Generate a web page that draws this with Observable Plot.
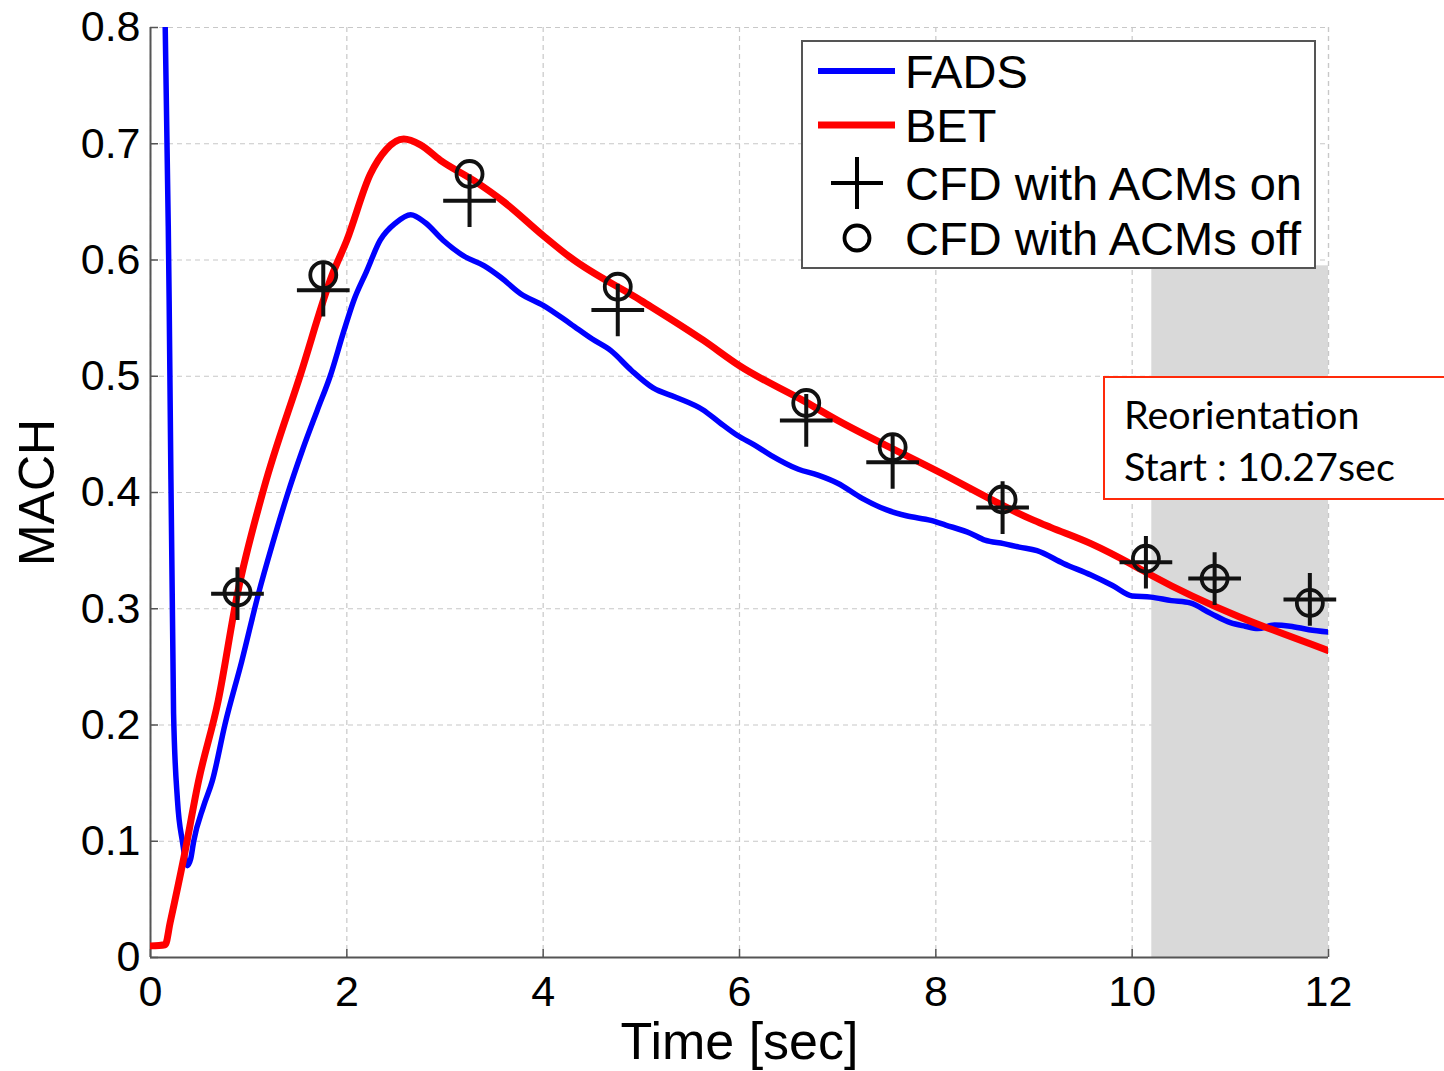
<!DOCTYPE html>
<html>
<head>
<meta charset="utf-8">
<script src="https://cdn.jsdelivr.net/npm/d3@7"></script>
<script src="https://cdn.jsdelivr.net/npm/@observablehq/plot@0.6"></script>
<style>
  html, body { margin: 0; padding: 0; background: #fff; overflow: hidden; }
  #wrap { position: relative; width: 1444px; height: 1071px; }
  #overlay { position: absolute; left: 0; top: 0; pointer-events: none; }
</style>
</head>
<body>
<div id="wrap"></div>
<script>
// ---- Data ----
const fadsTime = [0.13, 0.15, 0.19, 0.235, 0.275, 0.325, 0.375, 0.41, 0.44, 0.54, 0.63, 0.76, 0.93, 1.10, 1.24, 1.39, 1.55, 1.7, 1.83, 1.97, 2.07, 2.2, 2.34, 2.5, 2.65, 2.8, 2.98, 3.2, 3.4, 3.57, 3.77, 4.0, 4.28, 4.5, 4.69, 4.9, 5.12, 5.35, 5.63, 5.8, 5.98, 6.15, 6.32, 6.6, 6.8, 7.0, 7.25, 7.5, 7.7, 7.95, 8.1, 8.35, 8.5, 8.69, 8.85, 9.03, 9.3, 9.58, 9.8, 10.0, 10.19, 10.4, 10.59, 10.8, 11.0, 11.15, 11.28, 11.45, 11.61, 11.8, 12.0];
const fadsMach = [0.82, 0.80, 0.565, 0.21, 0.135, 0.10, 0.079, 0.085, 0.10, 0.13, 0.152, 0.201, 0.255, 0.313, 0.355, 0.397, 0.437, 0.471, 0.50, 0.539, 0.565, 0.59, 0.617, 0.632, 0.639, 0.632, 0.617, 0.603, 0.595, 0.585, 0.571, 0.561, 0.545, 0.532, 0.522, 0.505, 0.49, 0.482, 0.471, 0.46, 0.449, 0.441, 0.432, 0.42, 0.415, 0.408, 0.395, 0.385, 0.38, 0.376, 0.372, 0.365, 0.359, 0.356, 0.353, 0.35, 0.339, 0.329, 0.32, 0.311, 0.31, 0.307, 0.305, 0.296, 0.288, 0.285, 0.283, 0.286, 0.285, 0.282, 0.28];

const betTime = [0, 0.15, 0.2, 0.34, 0.49, 0.69, 0.886, 1.15, 1.53, 1.85, 2.0, 2.24, 2.4, 2.58, 2.75, 2.95, 3.3, 3.6, 4.0, 4.28, 5.0, 5.63, 6.0, 6.65, 7.0, 7.67, 8.0, 9.0, 9.17, 9.58, 10.0, 10.19, 12.0];
const betMach = [0.01, 0.011, 0.03, 0.086, 0.152, 0.221, 0.313, 0.402, 0.502, 0.587, 0.617, 0.674, 0.695, 0.704, 0.699, 0.686, 0.668, 0.65, 0.621, 0.602, 0.565, 0.531, 0.509, 0.479, 0.462, 0.433, 0.419, 0.376, 0.37, 0.356, 0.338, 0.329, 0.264];

const cfdTime   = [0.886, 1.76, 3.25, 4.76, 6.68, 7.56, 8.68, 10.14, 10.84, 11.81];
const cfdOnMach = [0.313, 0.574, 0.651, 0.557, 0.462, 0.426, 0.387, 0.340, 0.326, 0.308];
const cfdOffMach= [0.314, 0.587, 0.674, 0.577, 0.477, 0.439, 0.394, 0.343, 0.326, 0.305];

const xTicks = [0, 2, 4, 6, 8, 10, 12];
const yTicks = [0, 0.1, 0.2, 0.3, 0.4, 0.5, 0.6, 0.7, 0.8];
const shadeStart = 10.2, shadeEnd = 12, shadeTop = 0.595;

const seriesNames = ["FADS", "BET", "CFD with ACMs on", "CFD with ACMs off"];
const annotationLines = ["Reorientation", "Start : 10.27sec"];

// ---- Build tables ----
const fads = fadsTime.map((t, i) => ({t, m: fadsMach[i]}));
const bet = betTime.map((t, i) => ({t, m: betMach[i]}));
const cfdOn = cfdTime.map((t, i) => ({t, m: cfdOnMach[i]}));
const cfdOff = cfdTime.map((t, i) => ({t, m: cfdOffMach[i]}));
const shade = [{x1: shadeStart, x2: shadeEnd, y1: 0, y2: shadeTop}];

const W = 1444, H = 1071;
const mL = 150, mR = 116, mT = 27, mB = 114;
const innerW = W - mL - mR, innerH = H - mT - mB;

const chart = Plot.plot({
  width: W, height: H,
  marginLeft: mL, marginRight: mR, marginTop: mT, marginBottom: mB,
  x: {domain: [0, 12]},
  y: {domain: [0, 0.8]},
  style: {fontFamily: "'Liberation Sans', Arial, sans-serif", fontSize: "43px", background: "#fff", color: "#000"},
  marks: [
    Plot.gridX(xTicks, {stroke: "#c8c8c8", strokeOpacity: 1, strokeDasharray: "5,4", strokeWidth: 1.2}),
    Plot.gridY(yTicks, {stroke: "#c8c8c8", strokeOpacity: 1, strokeDasharray: "5,4", strokeWidth: 1.2}),
    Plot.rect(shade, {x1: "x1", x2: "x2", y1: "y1", y2: "y2", fill: "#d9d9d9"}),
    Plot.gridX([12], {stroke: "#c8c8c8", strokeOpacity: 1, strokeDasharray: "5,4", strokeWidth: 1.2}),
    Plot.axisX(xTicks, {tickSize: 0, tickPadding: 18, label: null, fontSize: 43, tickFormat: d => String(d)}),
    Plot.axisY(yTicks, {tickSize: 0, tickPadding: 10, label: null, fontSize: 43, tickFormat: d => d === 0 ? "0" : d.toFixed(1)}),
    Plot.tickY(yTicks, {y: d => d, insetRight: innerW - 8, stroke: "#555", strokeWidth: 1.5}),
    Plot.tickX(xTicks, {x: d => d, insetTop: innerH - 8, stroke: "#555", strokeWidth: 1.5}),
    Plot.ruleX([0], {stroke: "#555", strokeWidth: 2}),
    Plot.ruleY([0], {stroke: "#555", strokeWidth: 2}),
    Plot.line(fads, {x: "t", y: "m", stroke: "#0000ff", strokeWidth: 5.5, clip: true, curve: "monotone-x", strokeLinejoin: "round"}),
    Plot.line(bet, {x: "t", y: "m", stroke: "#ff0000", strokeWidth: 7, clip: true, curve: "monotone-x", strokeLinejoin: "round"}),
    Plot.dot(cfdOn, {x: "t", y: "m", symbol: "plus", r: 17, stroke: "#111", strokeWidth: 4}),
    Plot.dot(cfdOff, {x: "t", y: "m", symbol: "circle", r: 13, fill: "none", stroke: "#111", strokeWidth: 3.8}),
    Plot.text(["Time [sec]"], {frameAnchor: "bottom", lineAnchor: "middle", textAnchor: "middle", dy: 85, fontSize: 52, fill: "#000"}),
    Plot.text(["MACH"], {frameAnchor: "left", lineAnchor: "middle", textAnchor: "middle", dx: -113, rotate: -90, fontSize: 50, fill: "#000"})
  ]
});

const wrap = document.getElementById("wrap");
wrap.appendChild(chart);

// ---- Overlay: legend and annotation box ----
const ov = d3.select(wrap).append("svg")
  .attr("id", "overlay").attr("width", W).attr("height", H);

const lg = ov.append("g").attr("font-family", "'Liberation Sans', Arial, sans-serif").attr("font-size", 47);
lg.append("rect").attr("x", 802).attr("y", 41).attr("width", 513).attr("height", 227)
  .attr("fill", "#fff").attr("stroke", "#555").attr("stroke-width", 2);
const rowY = [71, 125, 183, 238];
lg.append("line").attr("x1", 818).attr("x2", 895).attr("y1", rowY[0]).attr("y2", rowY[0]).attr("stroke", "#0000ff").attr("stroke-width", 6);
lg.append("line").attr("x1", 818).attr("x2", 895).attr("y1", rowY[1]).attr("y2", rowY[1]).attr("stroke", "#ff0000").attr("stroke-width", 7);
lg.append("path").attr("d", `M831,${rowY[2]}H883M857,${rowY[2]-26}V${rowY[2]+26}`).attr("stroke", "#000").attr("stroke-width", 4).attr("fill", "none");
lg.append("circle").attr("cx", 857).attr("cy", rowY[3]).attr("r", 12.5).attr("stroke", "#000").attr("stroke-width", 3.8).attr("fill", "none");
seriesNames.forEach((s, i) => {
  lg.append("text").attr("x", 905).attr("y", rowY[i] + 17).attr("fill", "#000").text(s);
});

const an = ov.append("g").attr("font-family", "Lato, 'Open Sans', sans-serif").attr("font-size", 39.5);
an.append("rect").attr("x", 1104).attr("y", 377).attr("width", 400).attr("height", 122)
  .attr("fill", "#fff").attr("stroke", "#ff2a0a").attr("stroke-width", 2);
annotationLines.forEach((s, i) => {
  an.append("text").attr("x", 1124).attr("y", 429 + i * 52).attr("fill", "#000").text(s);
});
</script>
</body>
</html>
